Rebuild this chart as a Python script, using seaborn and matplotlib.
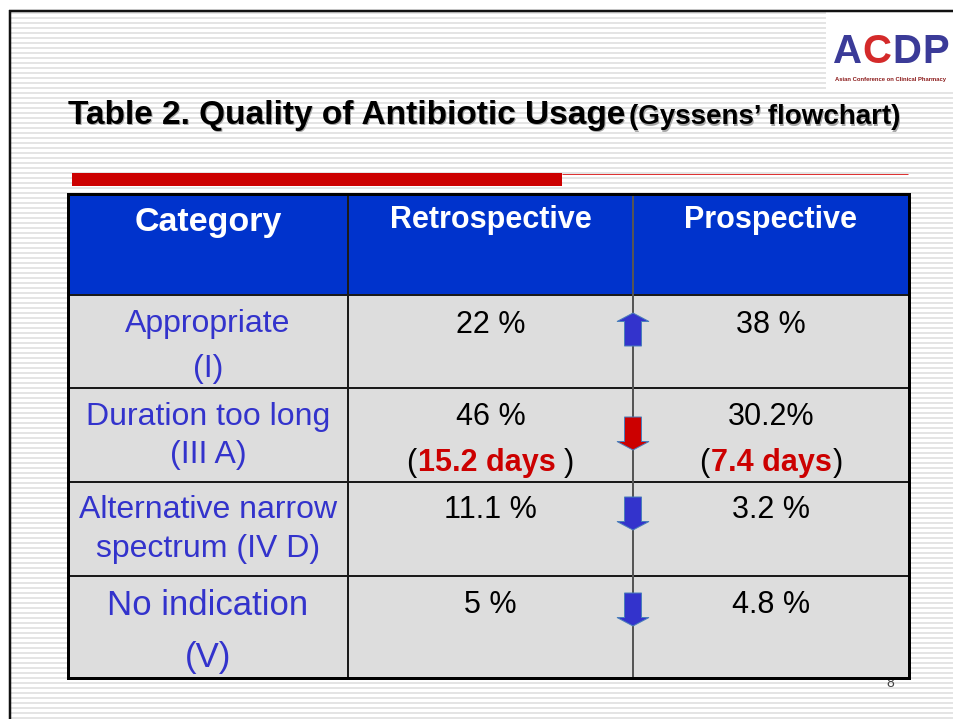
import numpy as np
import matplotlib
matplotlib.use("Agg")
import matplotlib.pyplot as plt
from matplotlib import font_manager
from matplotlib.colors import ListedColormap
from matplotlib.patches import Rectangle, Polygon
import seaborn as sns

# ---------------- data ----------------
title_main = "Table 2. Quality of Antibiotic Usage"
title_sub = "(Gyssens\u2019 flowchart)"
headers = ["Category", "Retrospective", "Prospective"]
category_line1 = ["Appropriate", "Duration too long", "Alternative narrow", "No indication"]
category_line2 = ["(I)", "(III A)", "spectrum (IV D)", "(V)"]
retrospective = ["22 %", "46 %", "11.1 %", "5 %"]
prospective = ["38 %", "30.2%", "3.2 %", "4.8 %"]
retro_days = ["", "15.2 days", "", ""]
prosp_days = ["", "7.4 days", "", ""]
retro_close = ["", " )", "", ""]
prosp_close = ["", ")", "", ""]
trend = ["up", "down", "down", "down"]
page_number = "8"
logo_letters = ["A", "C", "D", "P"]
logo_caption = "Asian Conference on Clinical Pharmacy"

# ---------------- style / layout ----------------
W, H = 954, 719
HEADER_BLUE = "#0033cc"
CELL_GRAY = "#dddddd"
CAT_BLUE = "#3333cc"
RED = "#cc0000"
ARROW_EDGE = "#4a7ebb"
arrow_fill = [CAT_BLUE, RED, CAT_BLUE, CAT_BLUE]
logo_colors = ["#3b3b98", "#d42a2a", "#3b3b98", "#3b3b98"]
col_edges = [68, 348, 633, 909]
row_edges = [194, 295, 388, 482, 576, 678]
cat_size = [23, 23, 23, 25]
cat_base1 = [37, 37, 36, 39]
cat_base2 = [82, 75, 75, 91]
val_size = 22
val_base1 = [38, 37, 36, 37]
val_base2 = 83
arrow_top = [18, 29, 15, 17]
arrow_len = 33
PX = 72.0 / 100.0  # points per pixel

sns.set_theme(style="white")
plt.rcParams["font.family"] = ["Liberation Sans", "DejaVu Sans"]
_names = {f.name for f in font_manager.fontManager.ttflist}
LOGO_FAMILY = ["Liberation Sans Narrow", "Liberation Sans"] if "Liberation Sans Narrow" in _names \
    else ["Liberation Sans", "DejaVu Sans"]

fig = plt.figure(figsize=(W / 100, H / 100), dpi=100, facecolor="white")
ax = fig.add_axes([0, 0, 1, 1])
ax.set_xlim(0, W)
ax.set_ylim(H, 0)
ax.axis("off")
ax.set_facecolor("white")

fig.canvas.draw()
renderer = fig.canvas.get_renderer()


def text_width(s, **kw):
    t = ax.text(0, 0, s, **kw)
    w = t.get_window_extent(renderer).width
    t.remove()
    return w


# background stripes inside the slide frame
stripe_y = np.arange(13, H + 5, 5)
ax.hlines(stripe_y, 11, W, colors="#e4e4e4", linewidth=2 * PX, zorder=0)
# logo box
ax.add_patch(Rectangle((826, 12), W - 826, 78, facecolor="white", edgecolor="none", zorder=0.5))
# slide frame
ax.hlines(10.5, 9, W, colors="#111111", linewidth=2.5 * PX, zorder=5)
ax.vlines(10, 10, H, colors="#111111", linewidth=2.5 * PX, zorder=5)

# logo: letters placed side by side, sized to fit the logo width
logo_left, logo_right = 833, 949
ref_size = 40
ref_w = [text_width(ch, fontsize=ref_size, fontweight="bold", family=LOGO_FAMILY) for ch in logo_letters]
gap = 0.8
logo_size = ref_size * (logo_right - logo_left - gap * (len(logo_letters) - 1)) / sum(ref_w)
lx = logo_left
for ch, lc in zip(logo_letters, logo_colors):
    t = ax.text(lx, 63, ch, fontsize=logo_size, fontweight="bold", color=lc, family=LOGO_FAMILY,
                ha="left", va="baseline", zorder=1)
    lx += t.get_window_extent(renderer).width + gap
ax.text((logo_left + logo_right) / 2, 81, logo_caption, fontsize=4.2, fontweight="bold",
        color="#8b1a1a", ha="center", va="baseline", zorder=1)

# title with shadow
for dx, dy, c, z in [(1.5, 1.5, "#a8a8a8", 1), (0, 0, "black", 2)]:
    ax.text(68 + dx, 124 + dy, title_main, fontsize=24, fontweight="bold", color=c,
            ha="left", va="baseline", zorder=z)
    ax.text(629 + dx, 124 + dy, title_sub, fontsize=20, fontweight="bold", color=c,
            ha="left", va="baseline", zorder=z)

# red accent bar
ax.add_patch(Rectangle((72, 173), 490, 13, facecolor=RED, edgecolor="none", zorder=2))
ax.hlines(174, 562, 908, colors="#dd3333", linewidth=1 * PX, zorder=2)

# page number (behind table)
ax.text(890, 687, page_number, fontsize=10, color="#444444", ha="center", va="baseline", zorder=1)

# table cells
codes = np.vstack([np.zeros((1, 3)), np.ones((len(category_line1), 3))])
ax.pcolormesh(col_edges, row_edges, codes, cmap=ListedColormap([HEADER_BLUE, CELL_GRAY]),
              vmin=0, vmax=1, zorder=2)
ax.hlines(row_edges[1:-1], col_edges[0], col_edges[-1], colors="#1a1a1a", linewidth=2 * PX, zorder=3)
ax.vlines(col_edges[1], row_edges[0], row_edges[-1], colors="#1a1a1a", linewidth=2 * PX, zorder=3)
ax.vlines(col_edges[2], row_edges[0], row_edges[-1], colors="#555555", linewidth=2 * PX, zorder=3)
ax.add_patch(Rectangle((col_edges[0], 193.5), col_edges[-1] - col_edges[0], row_edges[-1] - 193.5,
                       fill=False, edgecolor="black", linewidth=3 * PX, zorder=4))

col_centers = [(a + b) / 2 for a, b in zip(col_edges[:-1], col_edges[1:])]

# header text
ax.text(col_centers[0], 231, headers[0], fontsize=24.5, fontweight="bold", color="white",
        ha="center", va="baseline", zorder=5)
for j in (1, 2):
    ax.text(col_centers[j], 228, headers[j], fontsize=22, fontweight="bold", color="white",
            ha="center", va="baseline", zorder=5)


def draw_days(xc, yb, days, close):
    kw_r = dict(fontsize=val_size, color="black")
    kw_b = dict(fontsize=val_size, color=RED, fontweight="bold")
    w_open = text_width("(", **kw_r)
    w_days = text_width(days, **kw_b)
    w_close = text_width(")", **kw_r)
    sp = text_width("a a", **kw_r) - text_width("aa", **kw_r) if close.startswith(" ") else 1.0
    total = w_open + 1.0 + w_days + sp + w_close
    x0 = xc - total / 2
    ax.text(x0, yb, "(", ha="left", va="baseline", zorder=5, **kw_r)
    ax.text(x0 + w_open + 1.0, yb, days, ha="left", va="baseline", zorder=5, **kw_b)
    ax.text(x0 + w_open + 1.0 + w_days + sp, yb, ")", ha="left", va="baseline", zorder=5, **kw_r)


for i in range(len(category_line1)):
    top = row_edges[i + 1]
    ax.text(col_centers[0], top + cat_base1[i], category_line1[i], fontsize=cat_size[i],
            color=CAT_BLUE, ha="center", va="baseline", zorder=5)
    ax.text(col_centers[0], top + cat_base2[i], category_line2[i], fontsize=cat_size[i],
            color=CAT_BLUE, ha="center", va="baseline", zorder=5)
    ax.text(col_centers[1], top + val_base1[i], retrospective[i], fontsize=val_size,
            color="black", ha="center", va="baseline", zorder=5)
    ax.text(col_centers[2], top + val_base1[i], prospective[i], fontsize=val_size,
            color="black", ha="center", va="baseline", zorder=5)
    if retro_days[i]:
        draw_days(col_centers[1], top + val_base2, retro_days[i], retro_close[i])
    if prosp_days[i]:
        draw_days(col_centers[2], top + val_base2, prosp_days[i], prosp_close[i])

    # trend arrow on the column divider
    cx = col_edges[2]
    t = top + arrow_top[i]
    L, hl, hw, sw = arrow_len, 8.5, 16, 8.5
    if trend[i] == "up":
        verts = [(cx, t), (cx + hw, t + hl), (cx + sw, t + hl), (cx + sw, t + L),
                 (cx - sw, t + L), (cx - sw, t + hl), (cx - hw, t + hl)]
    else:
        verts = [(cx - sw, t), (cx + sw, t), (cx + sw, t + L - hl), (cx + hw, t + L - hl),
                 (cx, t + L), (cx - hw, t + L - hl), (cx - sw, t + L - hl)]
    ax.add_patch(Polygon(verts, closed=True, facecolor=arrow_fill[i], edgecolor=ARROW_EDGE,
                         linewidth=1 * PX, zorder=6))

fig.savefig("out.png", dpi=100, facecolor="white")
